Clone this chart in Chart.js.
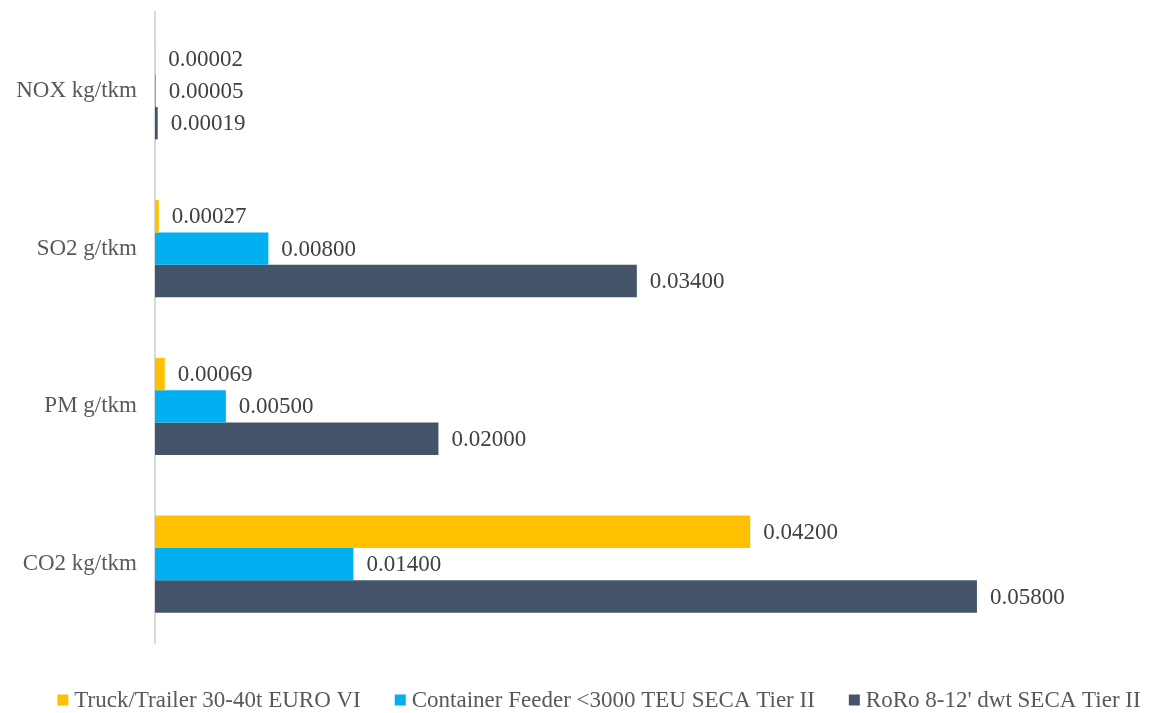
<!DOCTYPE html>
<html>
<head>
<meta charset="utf-8">
<title>Emissions per tkm</title>
<script src="https://cdn.jsdelivr.net/npm/chart.js@4/dist/chart.umd.min.js"></script>
<style>
    html, body { margin: 0; padding: 0; background: #fff; }
    #wrap { width: 1154px; height: 713px; }
</style>
</head>
<body>
<div id="wrap"><canvas id="emissionChart"></canvas></div>
<script>
// categories, top to bottom
const categories = ["NOX kg/tkm", "SO2 g/tkm", "PM g/tkm", "CO2 kg/tkm"];

// one array per transport mode
const truckValues = [0.00002, 0.00027, 0.00069, 0.042];
const feederValues = [0.00005, 0.008, 0.005, 0.014];
const roroValues = [0.00019, 0.034, 0.02, 0.058];

const seriesNames = ["Truck/Trailer 30-40t EURO VI", "Container Feeder <3000 TEU SECA Tier II", "RoRo 8-12' dwt SECA Tier II"];
const seriesColors = ["#FFC000", "#00B0F0", "#44546A"];

const FONT = "'Liberation Serif', 'Times New Roman', serif";

// writes the value just past the end of each bar
const barValueLabels = {
    id: "barValueLabels",
    afterDatasetsDraw(chart) {
        const ctx = chart.ctx;
        ctx.save();
        ctx.font = "23px " + FONT;
        ctx.fillStyle = "#404040";
        ctx.textAlign = "left";
        ctx.textBaseline = "middle";
        chart.data.datasets.forEach((ds, i) => {
            const meta = chart.getDatasetMeta(i);
            meta.data.forEach((bar, j) => {
                ctx.fillText(ds.data[j].toFixed(5), bar.x + 13, bar.y + 1);
            });
        });
        ctx.restore();
    }
};

// single-row legend under the plot, tight box-to-text gap
const bottomLegend = {
    id: "bottomLegend",
    afterDraw(chart) {
        const ctx = chart.ctx;
        const box = 11, gap = 6, spacing = 34, centerX = 599, y = 700;
        ctx.save();
        ctx.font = "23px " + FONT;
        ctx.textBaseline = "middle";
        ctx.textAlign = "left";
        const items = chart.data.datasets.map(ds => ({
            text: ds.label,
            color: ds.backgroundColor,
            w: box + gap + ctx.measureText(ds.label).width
        }));
        const total = items.reduce((s, it) => s + it.w, 0) + spacing * (items.length - 1);
        let x = centerX - total / 2;
        items.forEach(it => {
            ctx.fillStyle = it.color;
            ctx.fillRect(x, y - box / 2, box, box);
            ctx.fillStyle = "#595959";
            ctx.fillText(it.text, x + box + gap, y + 1);
            x += it.w + spacing;
        });
        ctx.restore();
    }
};

const datasets = [truckValues, feederValues, roroValues].map((vals, i) => ({
    label: seriesNames[i],
    data: vals,
    backgroundColor: seriesColors[i],
    borderWidth: 0,
    categoryPercentage: 0.615,
    barPercentage: 1.0
}));

new Chart(document.getElementById("emissionChart"), {
    type: "bar",
    data: { labels: categories, datasets: datasets },
    plugins: [barValueLabels, bottomLegend],
    options: {
        indexAxis: "y",
        responsive: true,
        maintainAspectRatio: false,
        animation: false,
        layout: { padding: { top: 12, right: 7, left: 0, bottom: 70 } },
        scales: {
            x: {
                display: false,
                min: 0,
                max: 0.07
            },
            y: {
                grid: { display: false, drawTicks: false },
                border: { display: true, color: "#D9D9D9", width: 2 },
                ticks: {
                    color: "#595959",
                    font: { family: FONT, size: 23 },
                    padding: 18
                },
                afterFit(scale) {
                    // fixed gutter for the labels, no extra room above/below
                    scale.width = 155;
                    scale.paddingTop = 0;
                    scale.paddingBottom = 0;
                }
            }
        },
        plugins: {
            legend: { display: false },
            tooltip: { enabled: false }
        }
    }
});
</script>
</body>
</html>
